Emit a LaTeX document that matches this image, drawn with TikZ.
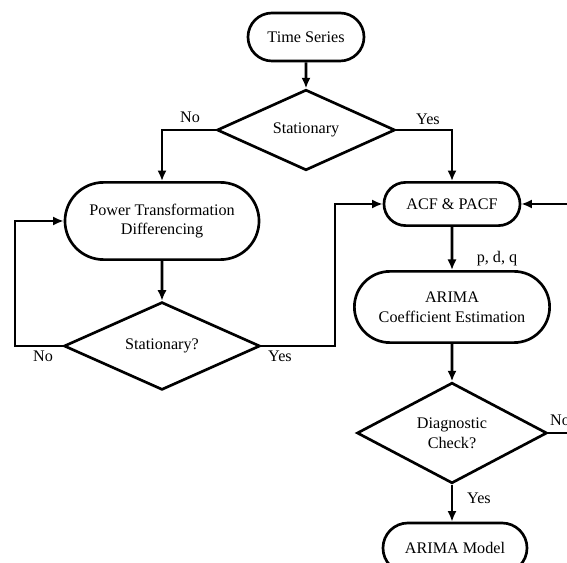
\documentclass[tikz,border=0pt]{standalone}
\usepackage{fontspec}
\setmainfont{Liberation Serif}
\usetikzlibrary{shapes.geometric}
\usetikzlibrary{shapes.misc}
\usetikzlibrary{arrows.meta}

\begin{document}
\begin{tikzpicture}[x=0.025cm, y=-0.025cm,
    txt/.style = {font=\fontsize{11.5}{14}\selectfont},
    term/.style 2 args = {rounded rectangle, draw, line width=1.9pt, txt,
                align=center, inner sep=0pt, minimum width=#1, minimum height=#2},
    decision/.style 2 args = {diamond, draw, line width=1.9pt, txt,
                align=center, inner sep=0pt, minimum width=#1, minimum height=#2},
    arr/.style = {line width=2pt, -{Latex[length=7.5pt,width=6.5pt]}},
    link/.style = {line width=2pt}
                    ]
        \useasboundingbox (0,0) rectangle (567,563);
        % left column
        \node[term={2.9cm}{1.2cm}] at (306,37) (ts) {Time Series};
        \node[decision={4.45cm}{1.5cm}] at (306,130) (st1) {Stationary};
        \node[term={4.85cm}{1.93cm}] at (162,221) (pt) {Power Transformation\\Differencing};
        \node[decision={4.9cm}{1.75cm}] at (162,346) (st2) {Stationary?};
        % right column
        \node[term={3.4cm}{1.08cm}] at (452,204) (acf) {ACF \& PACF};
        \node[term={4.88cm}{1.78cm}] at (452,307) (arima) {ARIMA\\Coefficient Estimation};
        \node[decision={4.75cm}{2.48cm}] at (452,433) (dc) {Diagnostic\\Check?};
        \node[term={3.6cm}{1.25cm}] at (455,548) (model) {ARIMA Model};
        % turning points
        \coordinate (l1) at (15,346);
        \coordinate (r1) at (335,346);
        \coordinate (r2) at (569,433);
        % labels
        \node[txt] at (190,117) (no1) {No};
        \node[txt] at (428,119) (yes1) {Yes};
        \node[txt] at (43,356) (no2) {No};
        \node[txt] at (280,356) (yes2) {Yes};
        \node[txt] at (497,259) (pdq) {p, d, q};
        \node[txt] at (560,420) (no3) {No};
        \node[txt] at (479,498) (yes3) {Yes};
        % connectors
        \draw [arr] (ts) -- (st1);
        \draw [arr] (st1.west) -| (pt.north);
        \draw [arr] (st1.east) -| (acf.north);
        \draw [arr] (pt) -- (st2);
        \draw [arr] (st2.west) -- (l1) |- (pt.west);
        \draw [arr] (st2.east) -- (r1) |- (acf.west);
        \draw [arr] (acf) -- (arima);
        \draw [arr] (arima) -- (dc);
        \draw [arr] (dc.east) -- (r2) |- (acf.east);
        \draw [arr] (dc.south) -- (model.north -| dc.south);
    \end{tikzpicture}
\end{document}
